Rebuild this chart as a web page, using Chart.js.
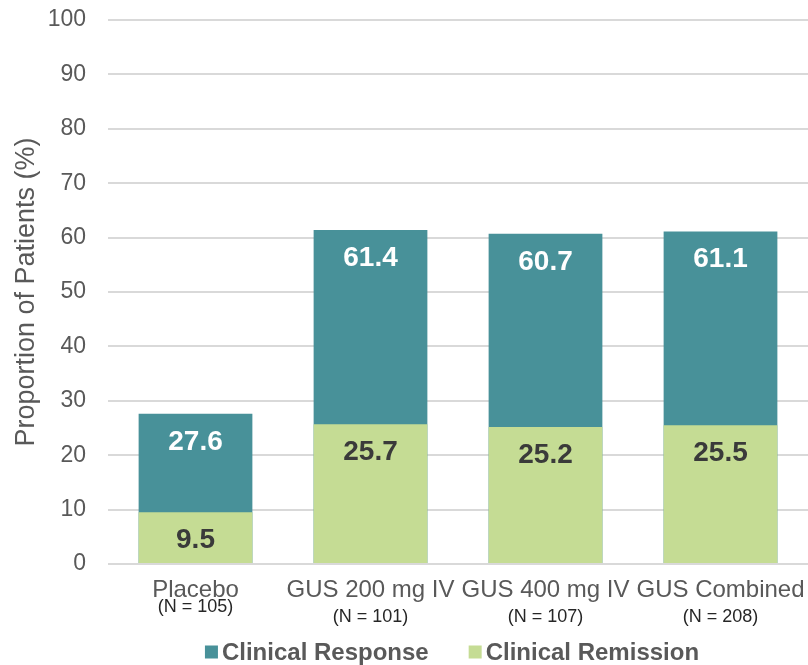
<!DOCTYPE html>
<html>
<head>
<meta charset="utf-8">
<script src="https://cdn.jsdelivr.net/npm/chart.js@4.4.1/dist/chart.umd.min.js"></script>
<style>
  html, body { margin: 0; padding: 0; background: #ffffff; }
  #wrap { width: 808px; height: 665px; position: relative; }
</style>
</head>
<body>
<div id="wrap"><canvas id="c" width="808" height="665"></canvas></div>
<script>
// Treatment arms and group sizes
const categories = ['Placebo', 'GUS 200 mg IV', 'GUS 400 mg IV', 'GUS Combined'];
const groupSizes = ['(N = 105)', '(N = 101)', '(N = 107)', '(N = 208)'];

// Proportion of patients (%)
const clinicalResponse = [27.6, 61.4, 60.7, 61.1];
const clinicalRemission = [9.5, 25.7, 25.2, 25.5];

// Y axis ticks
const yTicks = [0, 10, 20, 30, 40, 50, 60, 70, 80, 90, 100];

const FONT = 'Arial, "Liberation Sans", sans-serif';
const GREY_TEXT = '#595959';
const RESPONSE_COLOR = '#489199';
const REMISSION_COLOR = '#c5dc94';

// Value labels written just under the top edge of each bar
const valueLabels = {
  id: 'valueLabels',
  afterDatasetsDraw(chart) {
    const ctx = chart.ctx;
    ctx.save();
    ctx.font = 'bold 28px ' + FONT;
    ctx.textAlign = 'center';
    ctx.textBaseline = 'middle';
    chart.data.datasets.forEach((ds, di) => {
      const meta = chart.getDatasetMeta(di);
      meta.data.forEach((bar, i) => {
        ctx.fillStyle = ds.labelColor;
        ctx.fillText(ds.data[i].toFixed(1), bar.x, bar.y + 28);
      });
    });
    ctx.restore();
  }
};

// Group size written under each category name
const groupSizeLabels = {
  id: 'groupSizeLabels',
  afterDraw(chart) {
    const ctx = chart.ctx;
    const xs = chart.scales.x;
    ctx.save();
    ctx.font = '18px ' + FONT;
    ctx.fillStyle = '#262626';
    ctx.textAlign = 'center';
    ctx.textBaseline = 'middle';
    groupSizes.forEach((txt, i) => {
      const x = xs.getPixelForValue(i);
      const y = chart.chartArea.bottom + (i === 0 ? 43 : 53);
      ctx.fillText(txt, x, y);
    });
    ctx.restore();
  }
};

// Legend row along the bottom edge
const bottomLegend = {
  id: 'bottomLegend',
  afterDraw(chart) {
    const ctx = chart.ctx;
    const items = chart.data.datasets.map(ds => ({ text: ds.label, color: ds.backgroundColor }));
    const box = 13, gap = 4, itemGap = 40;
    ctx.save();
    ctx.font = 'bold 24px ' + FONT;
    ctx.textBaseline = 'middle';
    ctx.textAlign = 'left';
    const widths = items.map(it => box + gap + ctx.measureText(it.text).width);
    const total = widths.reduce((a, b) => a + b, 0) + itemGap * (items.length - 1);
    const cx = (chart.chartArea.left + chart.chartArea.right) / 2 - 6;
    const cy = chart.height - 13;
    let x = cx - total / 2;
    items.forEach((it, i) => {
      ctx.fillStyle = it.color;
      ctx.fillRect(x, cy - box / 2, box, box);
      ctx.fillStyle = GREY_TEXT;
      ctx.fillText(it.text, x + box + gap, cy + 1);
      x += widths[i] + itemGap;
    });
    ctx.restore();
  }
};

new Chart(document.getElementById('c'), {
  type: 'bar',
  data: {
    labels: categories,
    datasets: [
      {
        label: 'Clinical Response',
        data: clinicalResponse,
        backgroundColor: RESPONSE_COLOR,
        labelColor: '#ffffff',
        order: 1
      },
      {
        label: 'Clinical Remission',
        data: clinicalRemission,
        backgroundColor: REMISSION_COLOR,
        labelColor: '#3a3a3a',
        order: 0
      }
    ]
  },
  options: {
    responsive: false,
    animation: false,
    layout: { padding: { top: 20, right: -3, left: 0, bottom: 45 } },
    datasets: { bar: { categoryPercentage: 1, barPercentage: 0.65 } },
    scales: {
      x: {
        stacked: true,
        grid: { display: false, drawTicks: false },
        border: { display: false },
        ticks: {
          padding: 12,
          color: GREY_TEXT,
          font: { family: FONT, size: 24 },
          maxRotation: 0,
          autoSkip: false
        },
        afterFit(scale) {
          scale.height = 56;
          scale.paddingLeft = 0;
          scale.paddingRight = 0;
        }
      },
      y: {
        stacked: false,
        min: 0,
        max: 100,
        afterBuildTicks(scale) { scale.ticks = yTicks.map(v => ({ value: v })); },
        grid: { color: '#d9d9d9', lineWidth: 2, drawTicks: false },
        border: { display: false },
        ticks: {
          padding: 22,
          color: GREY_TEXT,
          font: { family: FONT, size: 23 }
        },
        title: {
          display: true,
          text: 'Proportion of Patients (%)',
          color: GREY_TEXT,
          font: { family: FONT, size: 27 },
          padding: { top: 10, bottom: 0 }
        },
        afterFit(scale) {
          scale.width = 108;
          scale.paddingTop = 0;
          scale.paddingBottom = 0;
        }
      }
    },
    plugins: {
      legend: { display: false },
      tooltip: { enabled: false }
    }
  },
  plugins: [valueLabels, groupSizeLabels, bottomLegend]
});
</script>
</body>
</html>
